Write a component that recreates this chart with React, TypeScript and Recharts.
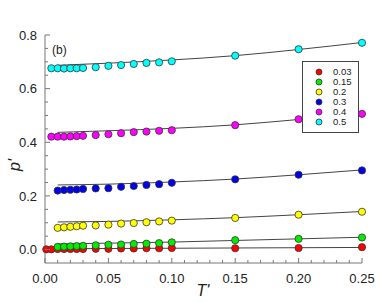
import React from 'react';
import { ComposedChart, Line, Scatter, XAxis, YAxis } from 'recharts';

// temperatures T'
const tRed = [0.001, 0.005, 0.01, 0.015, 0.02, 0.025, 0.03, 0.04, 0.05, 0.06, 0.07, 0.08, 0.09, 0.1, 0.15, 0.2, 0.25];
const tMid = [0.01, 0.015, 0.02, 0.025, 0.03, 0.04, 0.05, 0.06, 0.07, 0.08, 0.09, 0.1, 0.15, 0.2, 0.25];
const tTop = [0.005, 0.01, 0.015, 0.02, 0.025, 0.03, 0.04, 0.05, 0.06, 0.07, 0.08, 0.09, 0.1, 0.15, 0.2, 0.25];

// p' values, one per series
const p003 = [0.001, 0.001, 0.002, 0.002, 0.002, 0.002, 0.002, 0.003, 0.003, 0.004, 0.004, 0.005, 0.005, 0.006, 0.005, 0.006, 0.009];
const p015 = [0.01, 0.011, 0.012, 0.013, 0.014, 0.016, 0.018, 0.019, 0.021, 0.022, 0.024, 0.027, 0.035, 0.04, 0.045];
const p02 = [0.081, 0.083, 0.085, 0.087, 0.089, 0.09, 0.093, 0.097, 0.099, 0.102, 0.105, 0.108, 0.118, 0.13, 0.141];
const p03 = [0.22, 0.222, 0.223, 0.224, 0.226, 0.228, 0.229, 0.234, 0.237, 0.241, 0.244, 0.249, 0.262, 0.279, 0.295];
const p04 = [0.421, 0.421, 0.421, 0.422, 0.423, 0.424, 0.427, 0.43, 0.434, 0.438, 0.44, 0.443, 0.445, 0.464, 0.486, 0.506];
const p05 = [0.676, 0.676, 0.675, 0.676, 0.676, 0.677, 0.68, 0.685, 0.688, 0.692, 0.696, 0.698, 0.702, 0.723, 0.747, 0.771];

// fitted curves
const tFit = [0.01, 0.05, 0.1, 0.15, 0.2, 0.25];
const tFitRed = [0.001, 0.05, 0.1, 0.15, 0.2, 0.25];
const fit003 = [0.003, 0.004, 0.005, 0.006, 0.007, 0.008];
const fit015 = [0.021, 0.024, 0.028, 0.034, 0.04, 0.046];
const fit02 = [0.103, 0.105, 0.111, 0.119, 0.13, 0.142];
const fit03 = [0.241, 0.244, 0.252, 0.263, 0.279, 0.297];
const fit04 = [0.437, 0.443, 0.452, 0.465, 0.485, 0.505];
const fit05 = [0.687, 0.695, 0.707, 0.723, 0.746, 0.772];

const xTicks = [0, 0.01, 0.02, 0.03, 0.04, 0.05, 0.06, 0.07, 0.08, 0.09, 0.1, 0.11, 0.12, 0.13, 0.14, 0.15, 0.16, 0.17, 0.18, 0.19, 0.2, 0.21, 0.22, 0.23, 0.24, 0.25];
const yTicks = [0, 0.05, 0.1, 0.15, 0.2, 0.25, 0.3, 0.35, 0.4, 0.45, 0.5, 0.55, 0.6, 0.65, 0.7, 0.75, 0.8];

const labels = ['0.03', '0.15', '0.2', '0.3', '0.4', '0.5'];
const colors = ['#ff0000', '#00ee00', '#ffff00', '#0000ee', '#ff00ff', '#00ffff'];

const zip = (xs: number[], ys: number[]) => xs.map((x, i) => ({ x, y: ys[i] }));

const points = [zip(tRed, p003), zip(tMid, p015), zip(tMid, p02), zip(tMid, p03), zip(tTop, p04), zip(tTop, p05)];
const fits = [zip(tFitRed, fit003), zip(tFit, fit015), zip(tFit, fit02), zip(tFit, fit03), zip(tFit, fit04), zip(tFit, fit05)];

const W = 381;
const H = 302;
const LEFT = 45;
const RIGHT = 362;
const TOP = 35;
const BOTTOM = 263;
const AXIS = '#777';
const FONT = '"Liberation Sans", Arial, sans-serif';

const isMajorX = (v: number) => Math.round(v * 100) % 5 === 0;
const isMajorY = (v: number) => Math.round(v * 100) % 20 === 0;

const BottomTick = (props: any) => {
  const { x, payload } = props;
  const v = payload.value;
  const major = isMajorX(v);
  return (
    <g>
      <line x1={x} x2={x} y1={BOTTOM} y2={BOTTOM - (major ? 5 : 3)} stroke={AXIS} />
      {major && (
        <text x={x} y={283} textAnchor="middle" fontSize={13} fontFamily={FONT} fill="#222">
          {v.toFixed(2)}
        </text>
      )}
    </g>
  );
};

const TopTick = (props: any) => {
  const { x, payload } = props;
  const major = isMajorX(payload.value);
  return <line x1={x} x2={x} y1={TOP} y2={TOP + (major ? 5 : 3)} stroke={AXIS} />;
};

const LeftTick = (props: any) => {
  const { y, payload } = props;
  const v = payload.value;
  const major = isMajorY(v);
  return (
    <g>
      <line x1={LEFT} x2={LEFT + (major ? 5 : 3)} y1={y} y2={y} stroke={AXIS} />
      {major && (
        <text x={37} y={y + 4.7} textAnchor="end" fontSize={13} fontFamily={FONT} fill="#222">
          {v.toFixed(1)}
        </text>
      )}
    </g>
  );
};

const RightTick = (props: any) => {
  const { y, payload } = props;
  const major = isMajorY(payload.value);
  return <line x1={RIGHT} x2={RIGHT - (major ? 5 : 3)} y1={y} y2={y} stroke={AXIS} />;
};

const Dot = (color: string) => (props: any) => (
  <circle cx={props.cx} cy={props.cy} r={3.6} fill={color} stroke="#333" strokeWidth={0.8} />
);

export default function App() {
  return (
    <div style={{ position: 'absolute', left: 0, top: 0, width: W, height: H, background: '#fff' }}>
      <ComposedChart
        width={W}
        height={H}
        margin={{ top: TOP, right: W - RIGHT, bottom: 0, left: 0 }}
      >
        <XAxis
          xAxisId="b"
          dataKey="x"
          type="number"
          domain={[0, 0.25]}
          ticks={xTicks}
          interval={0}
          height={H - BOTTOM}
          stroke={AXIS}
          tickLine={false}
          tick={BottomTick}
          label={{
            content: () => (
              <text x={203} y={296} textAnchor="middle" fontSize={16} fontStyle="italic" fontFamily={FONT} fill="#222">
                T'
              </text>
            ),
          }}
        />
        <XAxis
          xAxisId="t"
          orientation="top"
          type="number"
          domain={[0, 0.25]}
          ticks={xTicks}
          interval={0}
          height={0}
          stroke={AXIS}
          tickLine={false}
          tick={TopTick}
        />
        <YAxis
          yAxisId="l"
          dataKey="y"
          type="number"
          domain={[-0.05, 0.8]}
          ticks={yTicks}
          interval={0}
          width={LEFT}
          stroke={AXIS}
          tickLine={false}
          tick={LeftTick}
          label={{
            content: () => (
              <text
                x={20}
                y={165}
                transform="rotate(-90 20 165)"
                textAnchor="middle"
                fontSize={16}
                fontStyle="italic"
                fontFamily={FONT}
                fill="#222"
              >
                p'
              </text>
            ),
          }}
        />
        <YAxis
          yAxisId="r"
          orientation="right"
          type="number"
          domain={[-0.05, 0.8]}
          ticks={yTicks}
          interval={0}
          width={0}
          stroke={AXIS}
          tickLine={false}
          tick={RightTick}
        />
        {fits.map((d, i) => (
          <Line
            key={'f' + i}
            xAxisId="b"
            yAxisId="l"
            data={d}
            dataKey="y"
            type="monotone"
            stroke="#444"
            strokeWidth={1}
            dot={false}
            activeDot={false}
            isAnimationActive={false}
          />
        ))}
        {points.map((d, i) => (
          <Scatter
            key={'s' + i}
            xAxisId="b"
            yAxisId="l"
            data={d}
            dataKey="y"
            shape={Dot(colors[i])}
            isAnimationActive={false}
          />
        ))}
      </ComposedChart>
      <div
        style={{
          position: 'absolute',
          left: 52,
          top: 43,
          fontSize: 12,
          fontFamily: FONT,
          color: '#222',
          lineHeight: '15px',
        }}
      >
        (b)
      </div>
      <div
        style={{
          position: 'absolute',
          left: 302,
          top: 61,
          width: 55,
          height: 70,
          border: '1px solid #444',
          background: '#fff',
          fontFamily: FONT,
          fontSize: 9.5,
          color: '#222',
        }}
      >
        {labels.map((l, i) => (
          <div key={l} style={{ position: 'absolute', left: 0, top: 5 + i * 10, height: 10, width: 55 }}>
            <svg width={10} height={10} style={{ position: 'absolute', left: 10.5, top: 0 }}>
              <circle cx={5} cy={5} r={3} fill={colors[i]} stroke="#333" strokeWidth={0.8} />
            </svg>
            <span style={{ position: 'absolute', left: 30, top: 0, lineHeight: '10px' }}>{l}</span>
          </div>
        ))}
      </div>
    </div>
  );
}
